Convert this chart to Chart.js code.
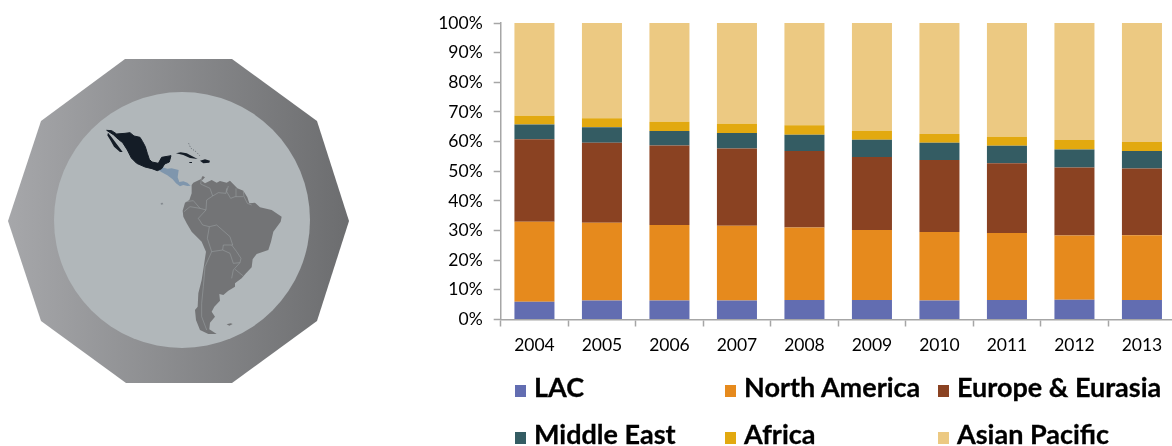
<!DOCTYPE html>
<html>
<head>
  <title>Share by region, 2004-2013</title>
  <script src="https://cdn.jsdelivr.net/npm/chart.js"></script>
  <style>
    html, body { margin: 0; padding: 0; background: #fff; overflow: hidden; }
    #page { position: relative; width: 1172px; height: 446px; overflow: hidden; font-family: Lato, sans-serif; }
    #globe { position: absolute; left: 0; top: 0; }
    #chart-box { position: absolute; left: 430px; top: 0; width: 760px; height: 446px; }
    .key { position: absolute; font-weight: 700; font-size: 27px; line-height: 30px; color: #000; white-space: nowrap; -webkit-text-stroke: 0.3px #000; }
    .key i { position: absolute; left: -19px; top: 13px; width: 11px; height: 12px; }
  </style>
</head>
<body>
<div id="page">
  <svg id="globe" width="400" height="446">
    <defs>
      <linearGradient id="rim" x1="8" x2="349" y1="0" y2="0" gradientUnits="userSpaceOnUse">
        <stop offset="0" stop-color="#a6a7aa"/>
        <stop offset="1" stop-color="#6c6d6f"/>
      </linearGradient>
    </defs>
    <polygon fill="url(#rim)" points="125,59 232,59 317,121 349,221 317,321 232,383 126,383 41,321 8,221 41,121"/>
    <circle cx="182" cy="220" r="128" fill="#b1b7ba"/>

    <!-- Mexico, Central America, Caribbean -->
    <g transform="translate(90 120) scale(0.3333)">
      <path fill="#7f96ad" d="M205 150 L218 142 L232 146 L245 145 L266 150 L263 172 L268 186 L280 184 L292 188 L302 197 L292 198 L280 195 L270 199 L258 190 L248 178 L232 166 L215 157 Z"/>
      <path fill="#141c26" stroke="#141c26" stroke-width="3" stroke-linejoin="round" d="M50 31 L65 32 L80 42 L105 40 L120 38 L132 48 L150 52 L158 65 L166 80 L172 100 L178 118 L186 126 L205 130 L215 112 L243 107 L238 126 L224 132 L215 146 L202 152 L186 146 L165 141 L140 130 L124 114 L112 90 L98 68 L85 58 L70 44 Z"/>
      <path fill="#141c26" d="M54 38 L65 52 L80 72 L98 96 L90 96 L72 80 L62 62 L52 46 Z"/>
      <path fill="#141c26" d="M258 100 L272 97 L290 100 L310 110 L323 117 L300 114 L280 105 Z"/>
      <path fill="#141c26" d="M330 122 L345 118 L360 122 L358 128 L340 130 Z"/>
      <path fill="#141c26" d="M298 126 L306 126 L306 129 L298 129 Z"/>
      <path fill="none" stroke="#141c26" stroke-width="1.5" stroke-dasharray="3 5" d="M296 70 L302 84 L318 95 L332 110"/>
    </g>

    <!-- South America -->
    <g transform="translate(160 170) scale(0.3333)">
      <path fill="#737476" d="M95 45 L100 38 L122 28 L128 18 L135 22 L125 32 L135 40 L155 30 L170 38 L180 33 L200 38 L210 32 L232 55 L250 62 L262 82 L268 100 L285 98 L300 112 L335 120 L365 140 L362 155 L340 185 L333 215 L325 240 L290 252 L278 268 L275 292 L258 310 L245 325 L225 340 L225 350 L205 362 L190 375 L178 372 L180 392 L163 410 L155 425 L165 440 L150 458 L148 478 L170 492 L145 492 L120 480 L108 450 L105 420 L113 410 L115 370 L125 330 L132 285 L138 245 L125 215 L95 185 L80 160 L70 140 L68 122 L75 98 L88 90 L95 70 Z"/>
      <g fill="none" stroke="#a3a8ab" stroke-width="1.4">
        <path d="M125 22 L122 42 L150 55 L158 78 L140 90 L138 120 L115 145 L128 165 L148 170"/>
        <path d="M158 78 L175 68 L198 70 L200 55"/>
        <path d="M205 48 L200 65 L212 85 L225 80 L250 80"/>
        <path d="M228 55 L228 80"/>
        <path d="M250 62 L252 80 L262 100 L275 105"/>
        <path d="M72 125 L90 110 L120 115 L138 120"/>
        <path d="M78 95 L100 92 L120 115"/>
        <path d="M148 170 L142 205 L155 245"/>
        <path d="M148 170 L170 165 L210 200 L218 225 L190 225"/>
        <path d="M188 240 L190 225 M215 225 L230 245 L243 265 L240 278 L220 280 L210 250 L188 240"/>
        <path d="M155 245 L188 240"/>
        <path d="M155 245 L135 290 L130 350 L125 400 L125 440 L140 480"/>
        <path d="M240 278 L220 300 L215 325 M225 298 L250 318"/>
      </g>
      <path fill="#737476" d="M200 463 L212 460 L218 462 L208 467 Z"/>
      <path fill="#858b90" d="M2 99 L8 98 L10 103 L3 104 Z"/>
    </g>
  </svg>

  <div id="chart-box"><canvas id="share-chart"></canvas></div>
  <div id="keys"></div>
</div>

<script>
var years = ['2004', '2005', '2006', '2007', '2008', '2009', '2010', '2011', '2012', '2013'];
var pctTicks = ['0%', '10%', '20%', '30%', '40%', '50%', '60%', '70%', '80%', '90%', '100%'];

var lac = [6.0, 6.4, 6.4, 6.4, 6.6, 6.6, 6.4, 6.6, 6.7, 6.6];
var northAmerica = [27.0, 26.2, 25.5, 25.2, 24.4, 23.6, 23.1, 22.6, 21.6, 21.8];
var europeEurasia = [27.8, 27.0, 26.8, 26.1, 25.8, 24.6, 24.3, 23.5, 23.0, 22.5];
var middleEast = [5.0, 5.2, 4.9, 5.2, 5.5, 5.8, 5.8, 5.9, 6.0, 5.9];
var africa = [2.9, 3.1, 3.1, 3.1, 3.2, 3.1, 3.0, 3.0, 3.2, 3.1];
var asianPacific = [31.3, 32.1, 33.3, 34.0, 34.5, 36.3, 37.4, 38.4, 39.5, 40.1];

var axisGrey = '#a6a6a6';
var ctx = document.getElementById('share-chart').getContext('2d');

var chart = new Chart(ctx, {
  type: 'bar',
  data: {
    labels: years,
    datasets: [
      { label: 'LAC', data: lac, backgroundColor: '#626db1' },
      { label: 'North America', data: northAmerica, backgroundColor: '#e68a1d' },
      { label: 'Europe & Eurasia', data: europeEurasia, backgroundColor: '#8a4222' },
      { label: 'Middle East', data: middleEast, backgroundColor: '#345c63' },
      { label: 'Africa', data: africa, backgroundColor: '#e2a910' },
      { label: 'Asian Pacific', data: asianPacific, backgroundColor: '#ecc982' }
    ]
  },
  options: {
    responsive: true,
    maintainAspectRatio: false,
    animation: false,
    layout: { padding: { top: 23, right: 14.3, bottom: 0, left: 0 } },
    datasets: { bar: { barPercentage: 0.593, categoryPercentage: 1 } },
    plugins: { legend: { display: false }, tooltip: { enabled: false } },
    scales: {
      x: {
        stacked: true,
        afterFit: function(scale) { scale.height = 126.5; },
        grid: { drawOnChartArea: false, color: axisGrey, tickLength: 7, tickWidth: 1.5 },
        border: { color: axisGrey, width: 1.5 },
        ticks: { color: '#000', padding: 8, maxRotation: 0, font: { family: 'Lato', size: 17.5 } }
      },
      y: {
        stacked: true,
        min: 0,
        max: 100,
        afterFit: function(scale) { scale.width = 70.7; },
        grid: { drawOnChartArea: false, color: axisGrey, tickLength: 7, tickWidth: 1.5 },
        border: { color: axisGrey, width: 1.5 },
        ticks: {
          stepSize: 10,
          color: '#000',
          padding: 11,
          font: { family: 'Lato', size: 17.5 },
          callback: function(value) { return pctTicks[value / 10]; }
        }
      }
    }
  }
});

// legend sits in three uneven columns, so it is built by hand from the datasets
var keySpots = [[534, 372], [744, 372], [957, 372], [534, 419], [744, 419], [957, 419]];
var keys = document.getElementById('keys');
chart.data.datasets.forEach(function(ds, i) {
  var el = document.createElement('div');
  el.className = 'key';
  el.style.left = keySpots[i][0] + 'px';
  el.style.top = keySpots[i][1] + 'px';
  var swatch = document.createElement('i');
  swatch.style.background = ds.backgroundColor;
  el.appendChild(swatch);
  el.appendChild(document.createTextNode(ds.label));
  keys.appendChild(el);
});
</script>
</body>
</html>
